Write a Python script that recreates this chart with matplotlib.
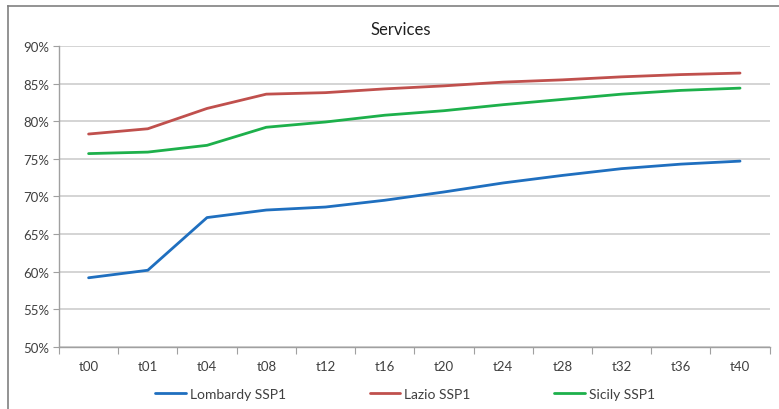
import numpy as np
import matplotlib.pyplot as plt
from matplotlib.lines import Line2D

plt.rcParams['font.family'] = ['Lato', 'DejaVu Sans']

periods = ['t00', 't01', 't04', 't08', 't12', 't16', 't20', 't24', 't28', 't32', 't36', 't40']
lombardy = [59.2, 60.2, 67.2, 68.2, 68.6, 69.5, 70.6, 71.8, 72.8, 73.7, 74.3, 74.7]
lazio = [78.3, 79.0, 81.7, 83.6, 83.8, 84.3, 84.7, 85.2, 85.5, 85.9, 86.2, 86.4]
sicily = [75.7, 75.9, 76.8, 79.2, 79.9, 80.8, 81.4, 82.2, 82.9, 83.6, 84.1, 84.4]

series = [
    ('Lombardy SSP1', lombardy, '#1f6fbf'),
    ('Lazio SSP1', lazio, '#c0504d'),
    ('Sicily SSP1', sicily, '#1db04b'),
]

fig = plt.figure(figsize=(7.79, 4.10), dpi=100)
ax = fig.add_axes([0.0757, 0.1512, 0.9123, 0.7342])

x = np.arange(len(periods))
for name, vals, col in series:
    ax.plot(x, vals, color=col, lw=2.0, label=name, solid_capstyle='round')

ax.set_xlim(-0.5, len(periods) - 0.5)
ax.set_ylim(50, 90)
yt = np.arange(50, 91, 5)
ax.set_yticks(yt)
ax.set_yticklabels([f'{v}%' for v in yt], fontsize=9.5, color='#404040')
ax.yaxis.grid(True, color='#d4d4d4', lw=1.4)
ax.set_axisbelow(True)

# category labels centred, tick marks on the boundaries
ax.set_xticks(np.arange(-0.5, len(periods)), minor=False)
ax.set_xticklabels([])
ax.set_xticks(x, minor=True)
ax.set_xticklabels(periods, minor=True, fontsize=9.5, color='#404040')
ax.tick_params(axis='x', which='major', length=5, color='#a0a0a0', direction='out')
ax.tick_params(axis='x', which='minor', length=0, pad=9)
ax.tick_params(axis='y', length=4, color='#a0a0a0', pad=3)

for s in ['top', 'right']:
    ax.spines[s].set_visible(False)
for s in ['left', 'bottom']:
    ax.spines[s].set_color('#a0a0a0')
    ax.spines[s].set_linewidth(1.0)

fig.text(0.515, 0.927, 'Services', ha='center', va='center', fontsize=12, color='#202020')

fig.legend(loc='center', bbox_to_anchor=(0.52, 0.037), ncol=3, frameon=False,
           fontsize=10, handlelength=2.2, handletextpad=0.3, columnspacing=6.0,
           labelcolor='#404040')

# frame edges left over from the surrounding page (top and left only)
fig.add_artist(Line2D([8 / 779, 1], [1 - 7 / 410, 1 - 7 / 410], transform=fig.transFigure,
                      color='#808080', lw=1.2))
fig.add_artist(Line2D([8 / 779, 8 / 779], [0, 1 - 7 / 410], transform=fig.transFigure,
                      color='#808080', lw=1.2))

fig.savefig('out.png', dpi=100, facecolor='white')
